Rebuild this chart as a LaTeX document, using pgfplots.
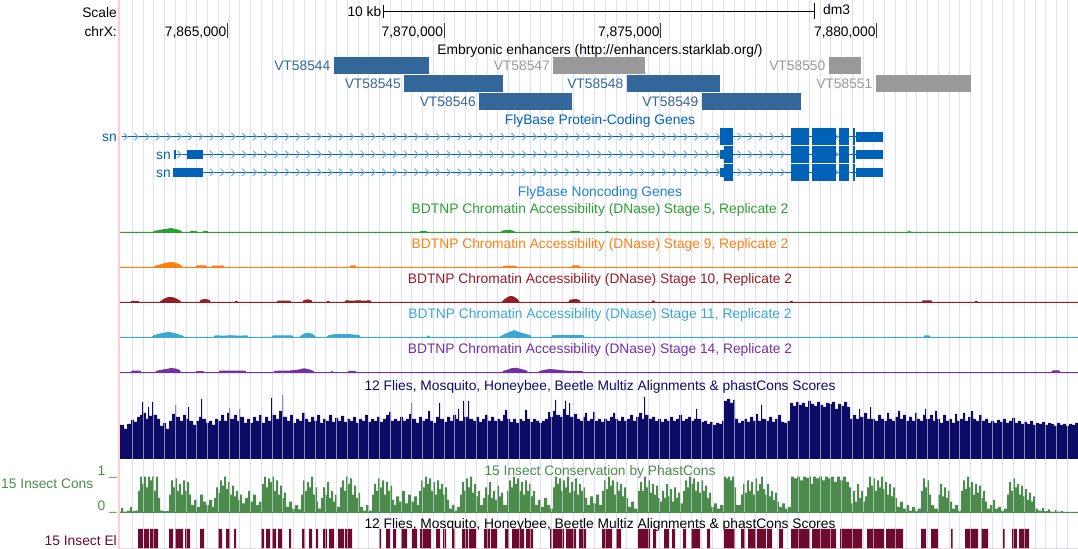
\documentclass[border=0pt]{standalone}
\usepackage{fontspec}
\setmainfont{Liberation Sans}
\usepackage{pgfplots}
\pgfplotsset{compat=1.18}
\usetikzlibrary{decorations.markings}
\definecolor{gridc}{RGB}{222,222,255}
\definecolor{pinkc}{RGB}{255,205,205}
\definecolor{enhblue}{RGB}{51,102,153}
\definecolor{enhgray}{RGB}{153,153,153}
\definecolor{genec}{RGB}{0,98,183}
\definecolor{chevc}{RGB}{120,170,225}
\definecolor{ncc}{RGB}{30,130,210}
\definecolor{sfive}{RGB}{44,160,44}
\definecolor{snine}{RGB}{255,127,14}
\definecolor{sten}{RGB}{150,30,35}
\definecolor{seleven}{RGB}{60,168,210}
\definecolor{sfourteen}{RGB}{112,50,160}
\definecolor{navyc}{RGB}{12,12,102}
\definecolor{phg}{RGB}{75,140,75}
\definecolor{elc}{RGB}{110,10,45}
\newcommand\tf{\fontsize{13.8bp}{16bp}\selectfont}
\newcommand{\rbox}[5]{\addplot[fill=#5, draw=none] coordinates {(#1,#3) (#2,#3) (#2,#4) (#1,#4)} --cycle;}
\pgfplotsset{
  track/.style={at={(120bp,#1)},anchor=south west,scale only axis,width=958bp,
    xmin=120,xmax=1078,ymin=0,axis line style={draw=none},ytick=\empty,
    xtick={132.5,143.245,...,1078},xticklabels={},major tick length=0pt,
    xmajorgrids,major grid style={draw=gridc,opacity=0.6,line width=1bp},axis on top}
}
\tikzset{lbl/.style={inner sep=0pt,font=\tf},
  chev/.style={chevc,line width=1bp}}
\begin{document}
\begin{tikzpicture}
\begin{axis}[at={(0,0)},anchor=south west,scale only axis,width=1078bp,height=549bp,
  xmin=0,xmax=1078,ymin=0,ymax=549,y dir=reverse,axis line style={draw=none},
  xtick={132.5,143.245,...,1078},ytick=\empty,xticklabels={},major tick length=0pt,
  xmajorgrids,major grid style={draw=gridc,line width=1bp},clip=false]
% pink separator
\addplot[draw=pinkc,line width=1.5bp] coordinates {(119,0) (119,549)};
% ruler
\addplot[black,line width=1bp] coordinates {(383.3,11.7) (814.3,11.7)};
\addplot[black,line width=1bp] coordinates {(383.3,5) (383.3,18.5)};
\addplot[black,line width=1bp] coordinates {(814.3,3.5) (814.3,19.5)};
\addplot[black!75,line width=1bp] coordinates {(227.7,23) (227.7,38)};
\addplot[black!75,line width=1bp] coordinates {(444.3,23) (444.3,38)};
\addplot[black!75,line width=1bp] coordinates {(660.7,23) (660.7,38)};
\addplot[black!75,line width=1bp] coordinates {(876.7,23) (876.7,38)};
\node[lbl,anchor=base east] at (axis cs:117,17.7) {Scale};
\node[lbl,anchor=base east] at (axis cs:381.5,16.7) {10 kb};
\node[lbl,anchor=base west] at (axis cs:823,14.3) {dm3};
\node[lbl,anchor=base east] at (axis cs:117,36.7) {chrX:};
\node[lbl,anchor=base east] at (axis cs:226.5,36.7) {7,865,000};
\node[lbl,anchor=base east] at (axis cs:443.3,36.7) {7,870,000};
\node[lbl,anchor=base east] at (axis cs:659.7,36.7) {7,875,000};
\node[lbl,anchor=base east] at (axis cs:875.7,36.7) {7,880,000};
% enhancers
\node[lbl,anchor=base] at (axis cs:600,54.3) {Embryonic enhancers (http://enhancers.starklab.org/)};
\rbox{334}{429}{56.8}{73.8}{enhblue}
\rbox{553}{645}{56.8}{73.8}{enhgray}
\rbox{829}{860.5}{56.8}{73.8}{enhgray}
\rbox{404}{503}{75.2}{91.9}{enhblue}
\rbox{627}{720}{75.2}{91.9}{enhblue}
\rbox{876}{971}{75.2}{91.9}{enhgray}
\rbox{479}{571.5}{93.3}{110.2}{enhblue}
\rbox{702}{801}{93.3}{110.2}{enhblue}
\node[lbl,anchor=base east,text=enhblue] at (axis cs:330.5,70.3) {VT58544};
\node[lbl,anchor=base east,text=enhgray] at (axis cs:550,70.3) {VT58547};
\node[lbl,anchor=base east,text=enhgray] at (axis cs:825.5,70.3) {VT58550};
\node[lbl,anchor=base east,text=enhblue] at (axis cs:401,88.3) {VT58545};
\node[lbl,anchor=base east,text=enhblue] at (axis cs:623.5,88.3) {VT58548};
\node[lbl,anchor=base east,text=enhgray] at (axis cs:872.5,88.3) {VT58551};
\node[lbl,anchor=base east,text=enhblue] at (axis cs:476,106.7) {VT58546};
\node[lbl,anchor=base east,text=enhblue] at (axis cs:698.5,106.7) {VT58549};
% genes
\node[lbl,anchor=base,text=genec] at (axis cs:600,125) {FlyBase Protein-Coding Genes};
\addplot[draw=genec,line width=1.3bp,postaction={decorate},decoration={markings,
  mark=between positions 3.9bp and -2bp step 10.77bp with {\draw[chev] (-2.2bp,3.6bp) -- (1.5bp,0) -- (-2.2bp,-3.6bp);}}]
  coordinates {(122,136.7) (856,136.7)};
\addplot[draw=genec,line width=1.3bp,postaction={decorate},decoration={markings,
  mark=between positions 5.75bp and -2bp step 10.77bp with {\draw[chev] (-2.2bp,3.6bp) -- (1.5bp,0) -- (-2.2bp,-3.6bp);}}]
  coordinates {(174,154.3) (856,154.3)};
\addplot[draw=genec,line width=1.3bp,postaction={decorate},decoration={markings,
  mark=between positions 5.75bp and -2bp step 10.77bp with {\draw[chev] (-2.2bp,3.6bp) -- (1.5bp,0) -- (-2.2bp,-3.6bp);}}]
  coordinates {(174,172.3) (856,172.3)};
% row 1
\rbox{720}{733}{128.3}{145.1}{genec}
\rbox{791.4}{809.4}{128.3}{145.1}{genec}
\rbox{812}{836}{128.3}{145.1}{genec}
\rbox{839}{849.4}{128.3}{145.1}{genec}
\rbox{853}{854.5}{128.3}{145.1}{genec}
\rbox{856}{883}{131.9}{141.5}{genec}
% row 2
\rbox{174}{176}{149.5}{159.1}{genec}
\rbox{187}{203}{149.5}{159.1}{genec}
\rbox{720}{724}{149.5}{159.1}{genec}
\rbox{724}{733}{145.9}{162.7}{genec}
\rbox{791.4}{809.4}{145.9}{162.7}{genec}
\rbox{812}{836}{145.9}{162.7}{genec}
\rbox{839}{849.4}{145.9}{162.7}{genec}
\rbox{853}{854.5}{145.9}{162.7}{genec}
\rbox{856}{883}{149.5}{159.1}{genec}
% row 3
\rbox{173.4}{203}{167.5}{177.1}{genec}
\rbox{720}{724}{167.5}{177.1}{genec}
\rbox{724}{733}{163.9}{180.7}{genec}
\rbox{791.4}{809.4}{163.9}{180.7}{genec}
\rbox{812}{836}{163.9}{180.7}{genec}
\rbox{839}{849.4}{163.9}{180.7}{genec}
\rbox{853}{854.5}{163.9}{180.7}{genec}
\rbox{856}{883}{167.5}{177.1}{genec}
\node[lbl,anchor=base east,text=genec] at (axis cs:117,141.7) {sn};
\node[lbl,anchor=base east,text=genec] at (axis cs:171,159.3) {sn};
\node[lbl,anchor=base east,text=genec] at (axis cs:171,177.3) {sn};
\node[lbl,anchor=base,text=ncc] at (axis cs:600,196) {FlyBase Noncoding Genes};
% chromatin accessibility
\node[lbl,anchor=base,text=sfive] at (axis cs:600,213.3) {BDTNP Chromatin Accessibility (DNase) Stage 5, Replicate 2};
\addplot[fill=sfive,draw=sfive,line width=1bp] coordinates {(120,232.3)(153,232.3)(155,231.2)(159,230.6)(163,229.8)(167,229.2)(171,228.6)(174,229.2)(177,229.9)(180,230.8)(182,232.3)(190,232.3)(191,231.4)(196,231.4)(197,232.3)(203,232.3)(204,231.4)(207,231.4)(208,232.3)(420,232.3)(421,231.4)(426,231.4)(427,232.3)(501,232.3)(503,231)(507,230.4)(512,230.8)(515,232.3)(570,232.3)(572,231.3)(579,231.3)(580,232.3)(606,232.3)(607,231.4)(609,232.3)(908,232.3)(909,231.2)(911,232.3)(1078,232.3)} --cycle;
\node[lbl,anchor=base,text=snine] at (axis cs:600,248.3) {BDTNP Chromatin Accessibility (DNase) Stage 9, Replicate 2};
\addplot[fill=snine,draw=snine,line width=1bp] coordinates {(120,267.3)(154,267.3)(156,266)(160,265)(164,263.8)(168,262.8)(172,262.6)(176,263.4)(180,265)(182,267.3)(196,267.3)(197,265.9)(206,265.9)(207,267.3)(212,267.3)(213,265.9)(218,266.3)(223,265.9)(224,267.3)(350,267.3)(351,265.8)(355,265.8)(356,267.3)(503,267.3)(504,266)(515,266)(516,267.3)(572,267.3)(573,265.8)(579,265.8)(580,267.3)(1078,267.3)} --cycle;
\node[lbl,anchor=base,text=sten] at (axis cs:600,283.3) {BDTNP Chromatin Accessibility (DNase) Stage 10, Replicate 2};
\addplot[fill=sten,draw=sten,line width=1bp] coordinates {(120,302.3)(131,302.3)(132,301.3)(138,301.3)(139,302.3)(160,302.3)(162,300.5)(165,298.8)(168,297.7)(172,297.6)(176,298.8)(179,300.5)(181,302.3)(200,302.3)(201,300.3)(205,299.4)(209,300.3)(210,302.3)(235,302.3)(236,301.2)(238,302.3)(277,302.3)(278,301.2)(290,301.2)(291,302.3)(303,302.3)(304,300.6)(308,299.8)(311,300.6)(312,302.3)(327,302.3)(328,301.2)(330,302.3)(345,302.3)(346,300.8)(352,301.2)(358,300.8)(364,301.2)(370,300.8)(371,302.3)(502,302.3)(504,300.3)(507,298)(510,296.5)(513,296.8)(516,298.5)(518,300.3)(519,302.3)(569,302.3)(570,300.2)(575,299.5)(579,300.2)(580,302.3)(652,302.3)(653,300.8)(655,302.3)(790,302.3)(791,301.2)(793,302.3)(922,302.3)(923,300.8)(931,300.8)(932,302.3)(975,302.3)(976,301.2)(978,302.3)(1078,302.3)} --cycle;
\node[lbl,anchor=base,text=seleven] at (axis cs:600,318.3) {BDTNP Chromatin Accessibility (DNase) Stage 11, Replicate 2};
\addplot[fill=seleven,draw=seleven,line width=1bp] coordinates {(120,337.3)(152,337.3)(154,335.8)(158,334.5)(162,333.7)(166,332.8)(170,332.6)(174,333.5)(178,334.6)(182,336)(184,337.3)(214,337.3)(215,335.8)(224,336.2)(230,335.7)(240,336.2)(247,335.8)(248,337.3)(272,337.3)(273,335.8)(285,336)(292,335.8)(293,337.3)(300,337.3)(302,335.5)(305,333.8)(309,333.2)(313,334.8)(315.5,337.3)(327,337.3)(329,335.6)(335,334.6)(345,334.5)(352,334.8)(359,335.5)(360,337.3)(427,337.3)(428,336)(430,337.3)(500,337.3)(502,335.8)(506,334)(510,332.3)(513,331.2)(514,330.6)(516,331.5)(520,332.8)(525,334.3)(530,335.5)(531,337.3)(552,337.3)(553,335.6)(583,335.6)(584,337.3)(924,337.3)(925,335.8)(929,335.8)(930,337.3)(1078,337.3)} --cycle;
\node[lbl,anchor=base,text=sfourteen] at (axis cs:600,353.3) {BDTNP Chromatin Accessibility (DNase) Stage 14, Replicate 2};
\addplot[fill=sfourteen,draw=sfourteen,line width=1bp] coordinates {(120,372.7)(131,372.7)(132,371.2)(140,371.2)(141,372.7)(155,372.7)(157,371.2)(162,370.2)(167,369.4)(171,368.6)(175,368.9)(179,370.3)(181,372.7)(196,372.7)(197,371.6)(203,371.6)(204,372.7)(219,372.7)(220,371.2)(245,371.2)(246,372.7)(274,372.7)(275,371.3)(290,371)(298,370.2)(304,368.8)(308,369.6)(313,371.2)(314,372.7)(331,372.7)(332,371.5)(334,372.7)(348,372.7)(349,371.3)(355,371.3)(356,372.7)(502,372.7)(504,371.2)(508,370)(512,368.6)(516,368.2)(520,369.2)(526,370.8)(528,372.7)(538,372.7)(540,371.5)(545,370.2)(550,369.6)(556,370)(562,370.8)(570,371.4)(582,371.5)(583,372.7)(1052,372.7)(1053,370.8)(1059,370.8)(1060,372.7)(1078,372.7)} --cycle;
% conservation titles and labels
\node[lbl,anchor=base,text=navyc] at (axis cs:600,390) {12 Flies, Mosquito, Honeybee, Beetle Multiz Alignments \& phastCons Scores};
\node[lbl,anchor=base,text=phg] at (axis cs:600,475) {15 Insect Conservation by PhastCons};
\node[lbl,anchor=base east,text=phg] at (axis cs:117,475) {1 \_};
\node[lbl,anchor=base east,text=phg] at (axis cs:93.5,488.3) {15 Insect Cons};
\node[lbl,anchor=base east,text=phg] at (axis cs:117,510) {0 \_};
\node[lbl,anchor=base] at (axis cs:600,528.3) {12 Flies, Mosquito, Honeybee, Beetle Multiz Alignments \& phastCons Scores};
\node[lbl,anchor=base east,text=elc] at (axis cs:117,545) {15 Insect El};
\end{axis}
% Multiz / phastCons scores (navy)
\begin{axis}[track=90bp,height=64bp,ymax=64]
\addplot[const plot,fill=navyc,draw=none] coordinates {(120,34)(124,30)(127,35)(131,39)(134,37)(137,42)(140,44)(142,57)(143,46)(146,40)(148,52)(149,43)(152,57)(153,44)(157,40)(160,33)(163,36)(166,30)(169,38)(172,45)(175,54)(176,42)(180,38)(183,44)(186,40)(188,52)(189,38)(193,34)(196,38)(199,42)(201,60)(202,40)(206,36)(209,38)(212,34)(215,40)(218,38)(221,44)(224,38)(227,46)(229,51)(230,40)(234,44)(237,38)(239,50)(240,42)(244,36)(247,40)(250,36)(253,42)(256,38)(259,44)(262,36)(265,42)(268,38)(271,61)(272,44)(276,40)(279,48)(282,64)(283,42)(287,38)(290,44)(293,36)(296,40)(299,38)(302,46)(305,40)(308,37)(311,42)(314,38)(317,44)(320,36)(323,40)(326,38)(329,44)(332,37)(335,41)(338,38)(341,43)(344,37)(347,40)(350,38)(353,42)(356,36)(359,40)(362,38)(365,44)(368,37)(371,40)(374,38)(377,42)(380,37)(383,40)(386,44)(389,47)(391,38)(394,40)(397,38)(400,42)(403,38)(406,40)(409,45)(411,56)(412,40)(416,36)(419,42)(422,38)(425,40)(428,48)(430,38)(433,36)(436,42)(439,56)(440,40)(444,37)(447,42)(450,38)(453,44)(456,40)(458,50)(459,38)(463,58)(464,42)(468,58)(469,40)(473,38)(476,42)(479,37)(482,40)(485,44)(488,38)(491,42)(494,38)(497,40)(500,38)(503,44)(505,49)(507,40)(510,37)(513,40)(516,36)(519,40)(522,38)(525,49)(527,40)(530,37)(533,40)(536,38)(539,36)(542,38)(545,40)(548,47)(550,42)(553,48)(555,59)(556,44)(560,42)(563,50)(565,58)(566,44)(569,56)(570,42)(574,45)(577,40)(580,38)(583,42)(585,46)(587,38)(590,40)(593,47)(595,38)(598,40)(601,37)(604,40)(607,38)(610,42)(613,46)(615,40)(618,38)(621,42)(624,38)(627,40)(630,44)(633,38)(636,42)(639,46)(642,40)(644,62)(645,44)(649,40)(652,42)(655,38)(658,40)(661,37)(664,40)(667,38)(670,42)(673,38)(676,40)(679,44)(682,38)(685,40)(688,42)(691,38)(694,40)(696,50)(697,40)(701,37)(704,38)(707,35)(710,37)(713,34)(716,36)(719,35)(722,38)(724,58)(727,60)(730,56)(733,59)(735,40)(738,36)(741,38)(744,40)(747,37)(750,42)(753,38)(756,45)(758,38)(761,54)(762,40)(766,38)(769,42)(772,37)(775,40)(778,44)(781,37)(784,36)(787,38)(790,56)(793,53)(796,57)(799,54)(802,56)(805,52)(808,58)(811,55)(814,53)(817,57)(820,54)(823,52)(826,56)(829,55)(832,57)(835,50)(838,55)(841,53)(844,57)(847,52)(850,40)(853,44)(856,40)(859,50)(860,42)(864,46)(867,40)(870,52)(871,40)(875,38)(878,44)(881,40)(884,38)(887,46)(889,40)(892,38)(895,42)(898,48)(900,40)(903,44)(906,38)(909,42)(912,38)(915,46)(917,40)(920,38)(923,44)(925,50)(926,40)(930,44)(933,38)(935,48)(937,40)(940,36)(943,44)(946,38)(949,40)(952,36)(955,45)(957,38)(960,40)(963,46)(965,38)(968,42)(971,48)(973,40)(976,38)(979,44)(982,38)(985,40)(988,36)(991,38)(994,36)(997,39)(1000,37)(1003,40)(1006,36)(1009,38)(1012,41)(1015,36)(1018,38)(1021,35)(1024,37)(1027,35)(1030,38)(1033,34)(1036,36)(1039,35)(1042,37)(1045,34)(1048,36)(1051,35)(1054,33)(1057,36)(1060,34)(1063,35)(1066,33)(1069,35)(1072,34)(1075,36)(1078,36)} \closedcycle;
\end{axis}
% 15 insect phastCons (green)
\begin{axis}[track=36.7bp,height=35.6bp,ymax=1]
\addplot[const plot,fill=phg,draw=none] coordinates {(120,0.02)(121,0.12)(123,0.02)(127,0.05)(130,0.15)(132,0.03)(135,0.05)(138,0.6)(140,1)(142,0.8)(144,1)(146,0.7)(148,1)(150,0.9)(152,1)(154,0.6)(156,1)(158,0.4)(160,0.05)(164,0.03)(169,0.5)(171,0.9)(173,0.7)(175,0.95)(177,0.6)(179,0.8)(181,0.5)(183,0.9)(185,0.6)(187,0.85)(189,0.5)(191,0.2)(194,0.35)(197,0.15)(200,0.5)(203,0.3)(206,0.2)(209,0.35)(212,0.15)(214,0.4)(216,0.7)(218,0.55)(220,0.9)(222,0.75)(224,1)(226,0.65)(228,0.85)(230,0.5)(232,0.75)(234,0.45)(236,0.6)(238,0.35)(240,0.5)(242,0.25)(245,0.4)(248,0.6)(250,0.3)(253,0.5)(256,0.2)(259,0.3)(262,0.8)(264,1)(266,0.7)(268,0.95)(270,0.85)(272,1)(274,0.6)(276,0.9)(278,0.5)(280,0.75)(282,0.4)(284,0.55)(286,0.15)(289,0.3)(292,0.1)(295,0.2)(298,0.08)(301,0.5)(303,0.9)(305,0.6)(307,0.85)(309,0.7)(311,1)(313,0.5)(315,0.7)(317,0.3)(318,0.1)(321,0.4)(323,0.7)(325,0.5)(327,0.85)(329,0.4)(331,0.6)(333,0.3)(335,0.5)(337,0.15)(340,0.7)(342,0.9)(344,0.6)(346,1)(348,0.8)(350,0.95)(352,0.5)(354,0.75)(356,0.4)(358,0.55)(360,0.15)(363,0.05)(366,0.2)(369,0.05)(372,0.5)(374,0.8)(376,0.6)(378,0.95)(380,0.7)(382,0.9)(384,0.5)(386,0.85)(388,0.6)(390,0.75)(392,0.35)(394,0.2)(396,0.45)(399,0.3)(402,0.6)(405,0.25)(408,0.5)(411,0.3)(414,0.45)(417,0.2)(419,0.6)(421,0.9)(423,0.7)(425,1)(427,0.8)(429,0.95)(431,0.6)(433,0.85)(435,0.5)(437,0.9)(439,0.65)(441,0.8)(443,0.5)(445,0.7)(447,0.35)(449,0.1)(452,0.2)(455,0.05)(457,0.15)(460,0.5)(462,0.85)(464,0.6)(466,0.95)(468,0.7)(470,1)(472,0.55)(474,0.8)(476,0.45)(478,0.6)(480,0.2)(483,0.4)(485,0.7)(487,0.5)(489,0.85)(491,0.4)(493,0.6)(495,0.35)(497,0.75)(499,0.45)(501,0.55)(503,0.2)(507,0.6)(509,0.9)(511,0.7)(513,1)(515,0.8)(517,0.95)(519,0.6)(521,0.85)(523,0.5)(525,0.9)(527,0.6)(529,0.8)(531,0.45)(533,0.6)(535,0.2)(538,0.35)(541,0.15)(544,0.4)(547,0.2)(550,0.1)(553,0.7)(555,1)(557,0.8)(559,0.95)(561,0.6)(563,0.9)(565,0.7)(567,1)(569,0.55)(571,0.85)(573,0.6)(575,0.95)(577,0.5)(579,0.8)(581,0.6)(583,0.7)(585,0.4)(587,0.2)(590,0.45)(593,0.25)(596,0.5)(599,0.2)(602,0.6)(604,0.9)(606,0.65)(608,1)(610,0.75)(612,0.9)(614,0.5)(616,0.85)(618,0.6)(620,0.8)(622,0.45)(624,0.7)(626,0.4)(628,0.15)(631,0.3)(634,0.1)(638,0.6)(640,0.85)(642,0.6)(644,1)(646,0.7)(648,0.9)(650,0.55)(652,0.8)(654,0.5)(656,0.75)(658,0.4)(660,0.3)(662,0.6)(664,0.4)(666,0.8)(668,0.45)(670,0.65)(672,0.3)(674,0.7)(676,0.4)(678,0.55)(680,0.25)(683,0.6)(685,0.9)(687,0.7)(689,1)(691,0.8)(693,0.95)(695,0.6)(697,0.85)(699,0.55)(701,0.9)(703,0.6)(705,0.75)(707,0.4)(709,0.55)(711,0.15)(714,0.25)(717,0.1)(720,0.2)(724,1)(726,0.95)(728,1)(730,0.9)(732,1)(734,0.7)(736,0.2)(741,0.5)(743,0.8)(745,0.55)(747,0.9)(749,0.6)(751,0.85)(753,0.5)(755,0.95)(757,0.6)(759,0.8)(761,1)(763,0.65)(765,0.5)(767,0.8)(769,0.45)(771,0.6)(773,0.35)(775,0.55)(777,0.3)(779,0.15)(782,0.25)(785,0.1)(788,0.15)(791,1)(794,0.95)(797,1)(800,0.9)(803,1)(806,0.97)(809,1)(811,0.8)(813,1)(816,0.95)(819,1)(822,0.9)(825,1)(828,0.95)(831,1)(834,0.85)(837,1)(840,0.9)(843,1)(846,0.85)(849,0.7)(851,0.25)(853,0.6)(855,0.3)(857,0.8)(859,0.4)(861,0.6)(863,0.3)(865,0.45)(867,0.7)(869,1)(871,0.75)(873,0.95)(875,0.6)(877,0.9)(879,0.7)(881,1)(883,0.65)(885,0.85)(887,0.5)(889,0.8)(891,0.45)(893,0.7)(895,0.4)(897,0.15)(900,0.3)(903,0.1)(906,0.2)(909,0.05)(912,0.15)(915,0.05)(918,0.1)(921,0.6)(923,0.95)(925,0.7)(927,0.9)(929,0.5)(931,0.2)(934,0.1)(938,0.5)(940,0.8)(942,0.45)(944,0.7)(946,0.4)(948,0.6)(950,0.3)(952,0.1)(955,0.2)(958,0.05)(961,0.6)(963,0.9)(965,0.65)(967,1)(969,0.7)(971,0.85)(973,0.5)(975,0.8)(977,0.55)(979,0.75)(981,0.4)(983,0.6)(985,0.3)(987,0.1)(990,0.2)(993,0.35)(995,0.1)(998,0.15)(1001,0.05)(1004,0.1)(1007,0.5)(1009,0.85)(1011,0.6)(1013,0.95)(1015,0.7)(1017,0.8)(1019,0.5)(1021,0.75)(1023,0.45)(1025,0.65)(1027,0.35)(1029,0.55)(1031,0.3)(1033,0.45)(1035,0.1)(1038,0.05)(1042,0.12)(1044,0.03)(1048,0.08)(1050,0.02)(1055,0.06)(1057,0.02)(1061,0.04)(1063,0.01)(1078,0.01)} \closedcycle;
\addplot[draw=phg,line width=1bp] coordinates {(120,0) (1078,0)};
\end{axis}
% 15 insect conserved elements
\begin{axis}[track=0.7bp,height=19.3bp,ymax=1]
\addplot[const plot,fill=elc,draw=none] coordinates {(120,0)(138,1)(143,0)(144,1)(149,0)(150,1)(158,0)(169,1)(173,0)(175,1)(183,0)(185,1)(190,0)(200,1)(204,0)(218,1)(222,0)(226,1)(230,0)(234,1)(236,0)(261,1)(264,0)(266,1)(270,0)(272,1)(276,0)(278,1)(282,0)(289,1)(291,0)(302,1)(305,0)(309,1)(312,0)(316,1)(318,0)(323,1)(327,0)(329,1)(334,0)(338,1)(344,0)(345,1)(352,0)(379,1)(381,0)(386,1)(390,0)(393,1)(396,0)(401,1)(407,0)(412,1)(417,0)(420,1)(431,0)(436,1)(440,0)(443,1)(446,0)(452,1)(455,0)(462,1)(468,0)(469,1)(476,0)(484,1)(490,0)(491,1)(497,0)(505,1)(509,0)(512,1)(524,0)(526,1)(533,0)(550,1)(552,0)(553,1)(564,0)(566,1)(576,0)(579,1)(586,0)(602,1)(612,0)(616,1)(621,0)(638,1)(650,0)(653,1)(656,0)(664,1)(669,0)(672,1)(675,0)(683,1)(686,0)(691,1)(700,0)(707,1)(710,0)(724,1)(735,0)(741,1)(745,0)(748,1)(756,0)(757,1)(766,0)(767,1)(772,0)(779,1)(783,0)(791,1)(810,0)(812,1)(836,0)(840,1)(862,0)(867,1)(884,0)(886,1)(903,0)(921,1)(926,0)(931,1)(938,0)(951,1)(952.5,0)(965,1)(978,0)(981,1)(988,0)(1003,1)(1004.5,0)(1012,1)(1017,0)(1019,1)(1029,0)(1078,0)} \closedcycle;
\end{axis}
\pgfresetboundingbox
\path[use as bounding box] (0,0) rectangle (1078bp,549bp);
\end{tikzpicture}
\end{document}
